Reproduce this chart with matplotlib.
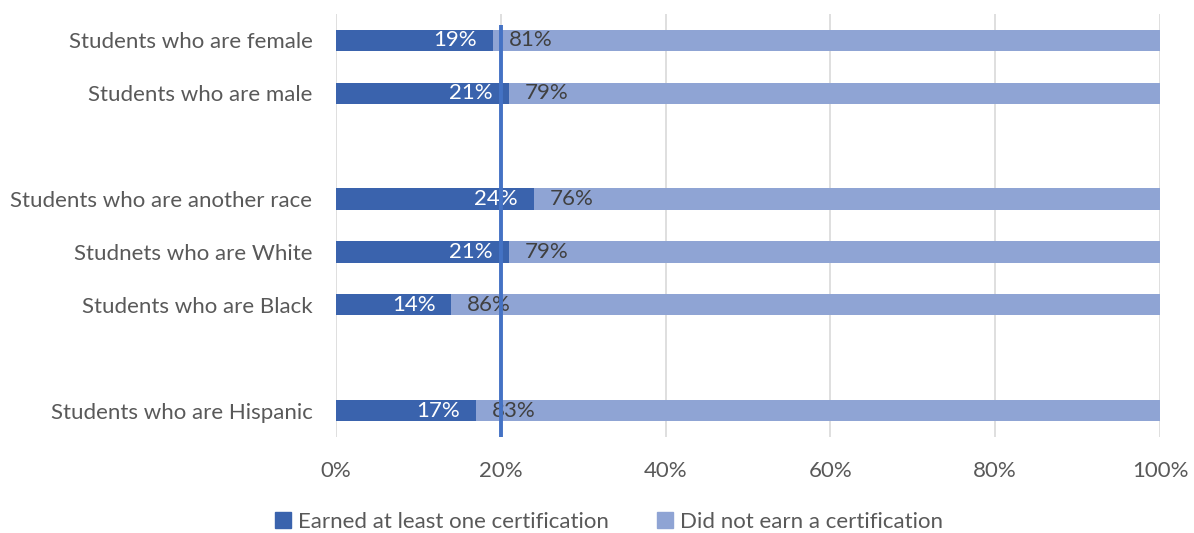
import matplotlib
matplotlib.use("Agg")
import matplotlib.pyplot as plt
from matplotlib.patches import Patch

plt.rcParams['font.family'] = ['Lato', 'DejaVu Sans']

# ----- Data -----
categories = ["Students who are female", "Students who are male", "",
              "Students who are another race", "Studnets who are White",
              "Students who are Black", "", "Students who are Hispanic"]
earned = [19, 21, None, 24, 21, 14, None, 17]
not_earned = [81, 79, None, 76, 79, 86, None, 83]
threshold = 20
x_ticks = [0, 20, 40, 60, 80, 100]
legend_labels = ["Earned at least one certification", "Did not earn a certification"]

dark = '#3A63AD'
light = '#8FA4D4'
text_col = '#595959'

fig = plt.figure(figsize=(11.94, 5.33), dpi=100)
ax = fig.add_axes([336 / 1194, 1 - 437 / 533, 824 / 1194, 423 / 533])

fs = 16
for i, (e, n) in enumerate(zip(earned, not_earned)):
    if e is None:
        continue
    ax.barh(i, e, height=0.4, color=dark, zorder=2)
    ax.barh(i, n, left=e, height=0.4, color=light, zorder=2)
    ax.annotate(f"{e}%", (e, i), xytext=(-16, 0), textcoords='offset pixels',
                ha='right', va='center', color='white', fontsize=fs, zorder=3)
    ax.annotate(f"{n}%", (e, i), xytext=(16, 0), textcoords='offset pixels',
                ha='left', va='center', color='#404040', fontsize=fs, zorder=3)

# threshold line
ax.plot([threshold, threshold], [len(categories) - 0.5, -0.29], color='#4472C4',
        lw=2.8, zorder=4, solid_capstyle='butt')

ax.set_ylim(len(categories) - 0.5, -0.5)
ax.set_yticks(range(len(categories)))
ax.set_yticklabels(categories)
ax.set_xlim(0, 100)
ax.set_xticks(x_ticks)
ax.set_xticklabels([f"{t}%" for t in x_ticks])
ax.tick_params(axis='both', length=0, labelsize=fs, colors=text_col)
ax.tick_params(axis='x', pad=17)
ax.tick_params(axis='y', pad=17)
ax.grid(axis='x', color='#D9D9D9', lw=1.2, zorder=0)
for s in ax.spines.values():
    s.set_visible(False)

handles = [Patch(color=dark), Patch(color=light)]
leg = fig.legend(handles, legend_labels, loc='center',
                 bbox_to_anchor=(609 / 1194, 1 - 522 / 533), ncol=2,
                 frameon=False, fontsize=fs, handlelength=0.7, handleheight=0.7,
                 handletextpad=0.3, columnspacing=2.2)
for t in leg.get_texts():
    t.set_color(text_col)

fig.savefig("out.png", dpi=100)
